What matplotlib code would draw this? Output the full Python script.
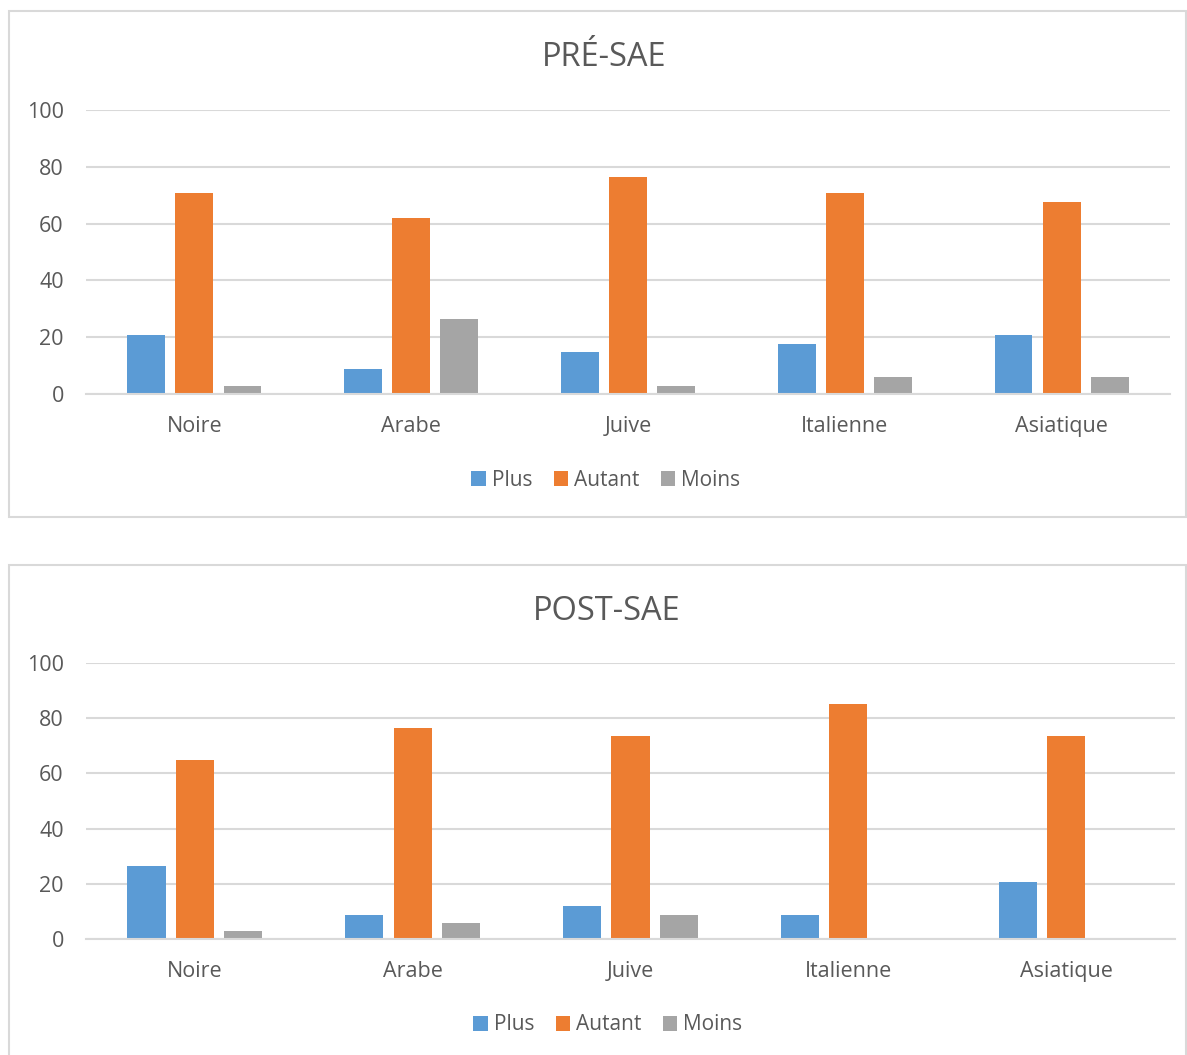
import matplotlib
matplotlib.use("Agg")
import matplotlib.pyplot as plt
import numpy as np
from matplotlib.patches import Rectangle

categories = ["Noire", "Arabe", "Juive", "Italienne", "Asiatique"]
series_names = ["Plus", "Autant", "Moins"]

pre_plus = [20.6, 8.8, 14.7, 17.6, 20.6]
pre_autant = [70.6, 61.8, 76.5, 70.6, 67.6]
pre_moins = [2.9, 26.5, 2.9, 5.9, 5.9]

post_plus = [26.5, 8.8, 11.8, 8.8, 20.6]
post_autant = [64.7, 76.5, 73.5, 85.3, 73.5]
post_moins = [2.9, 5.9, 8.8, 0.0, 0.0]

yticks = [0, 20, 40, 60, 80, 100]
colors = ["#5B9BD5", "#ED7D31", "#A5A5A5"]
text_color = "#595959"
grid_color = "#D9D9D9"

plt.rcParams["font.family"] = ["Open Sans", "DejaVu Sans"]

W, H = 1187, 1055
fig = plt.figure(figsize=(W / 100, H / 100), dpi=100)


def px_rect(x0, y0, x1, y1):
    # convert pixel box (top-left origin) to figure fraction
    return [x0 / W, 1 - y1 / H, (x1 - x0) / W, (y1 - y0) / H]


def draw_chart(frame, plot_box, title, title_xy, legend_xy, values):
    fx0, fy0, fx1, fy1 = frame
    fig.patches.append(Rectangle((fx0 / W, 1 - fy1 / H), (fx1 - fx0) / W, (fy1 - fy0) / H,
                                 transform=fig.transFigure, fill=False,
                                 edgecolor=grid_color, linewidth=1.5))
    ax = fig.add_axes(px_rect(*plot_box))
    x = np.arange(len(categories))
    width = 0.175
    offsets = [-0.222, 0.0, 0.222]
    handles = []
    for vals, off, col, name in zip(values, offsets, colors, series_names):
        h = ax.bar(x + off, vals, width, color=col, label=name, zorder=3)
        handles.append(h)
    ax.set_xlim(-0.5, len(categories) - 0.5)
    ax.set_ylim(0, 100)
    ax.set_yticks(yticks)
    ax.set_yticklabels([str(t) for t in yticks])
    ax.set_xticks(x)
    ax.set_xticklabels(categories)
    ax.tick_params(axis="both", length=0, labelsize=15.5, colors=text_color)
    ax.tick_params(axis="x", pad=16)
    ax.tick_params(axis="y", pad=16)
    ax.yaxis.grid(True, color=grid_color, linewidth=1.5, zorder=0)
    ax.set_axisbelow(True)
    for s in ["top", "right", "left"]:
        ax.spines[s].set_visible(False)
    ax.spines["bottom"].set_color(grid_color)
    ax.spines["bottom"].set_linewidth(1.5)
    ax.spines["bottom"].set_zorder(4)
    fig.text(title_xy[0] / W, 1 - title_xy[1] / H, title, ha="center", va="center",
             fontsize=23.5, color=text_color)
    fig.legend(handles=handles, labels=series_names, loc="center",
               bbox_to_anchor=(legend_xy[0] / W, 1 - legend_xy[1] / H), ncol=3,
               frameon=False, fontsize=15, labelcolor=text_color, handlelength=0.7,
               handleheight=0.7, handletextpad=0.3, columnspacing=1.0)
    return ax


draw_chart((9, 11, 1186, 517), (86, 110, 1170, 394), "PRÉ-SAE", (604, 58), (606, 480),
           [pre_plus, pre_autant, pre_moins])
draw_chart((9, 565, 1186, 1070), (86, 663, 1175, 939), "POST-SAE", (607, 611), (608, 1025),
           [post_plus, post_autant, post_moins])

fig.savefig("out.png", dpi=100, facecolor="white")
